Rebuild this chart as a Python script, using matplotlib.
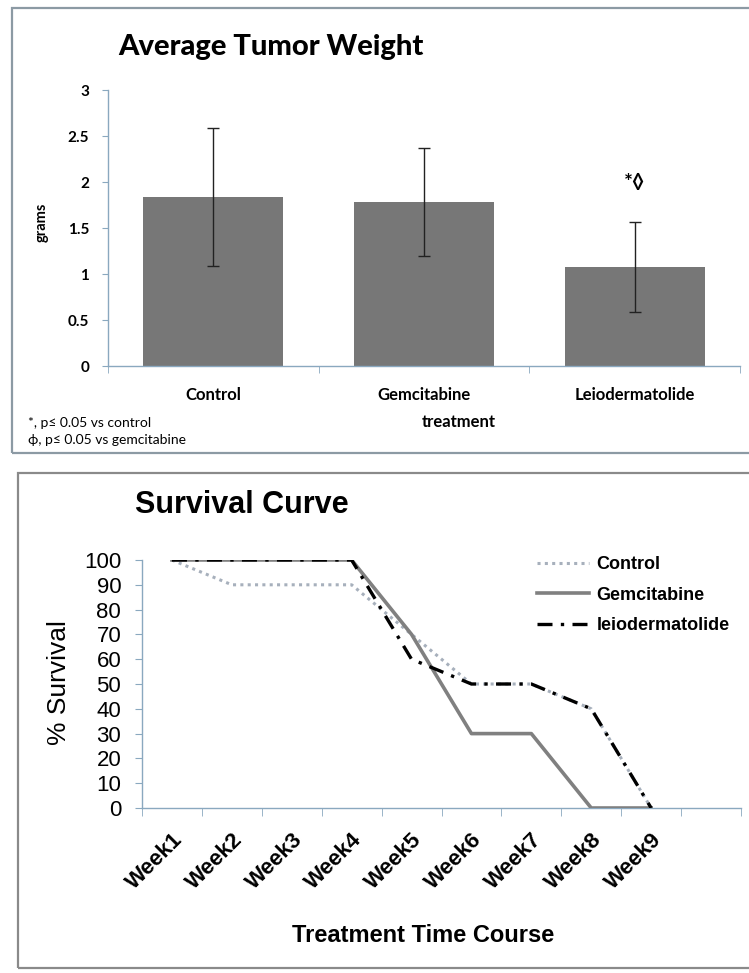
import matplotlib
matplotlib.use('Agg')
import matplotlib.pyplot as plt
from matplotlib.patches import Rectangle
from matplotlib.ticker import FixedLocator

# ---------------- data ----------------
treatments = ['Control', 'Gemcitabine', 'Leiodermatolide']
tumor_weight = [1.84, 1.78, 1.08]
tumor_err = [0.75, 0.585, 0.49]
weight_ticks = [0, 0.5, 1, 1.5, 2, 2.5, 3]
weight_tick_labels = ['0', '0.5', '1', '1.5', '2', '2.5', '3']

weeks = ['Week1', 'Week2', 'Week3', 'Week4', 'Week5', 'Week6', 'Week7', 'Week8', 'Week9']
control_surv = [100, 90, 90, 90, 70, 50, 50, 40, 0]
gem_surv = [100, 100, 100, 100, 70, 30, 30, 0, 0]
leio_surv = [100, 100, 100, 100, 60, 50, 50, 40, 0]
surv_ticks = [0, 10, 20, 30, 40, 50, 60, 70, 80, 90, 100]

W, H = 749, 973
fig = plt.figure(figsize=(W / 100, H / 100), dpi=100)
fig.patch.set_facecolor('white')

def fx(px):
    return px / W

def fy(py):
    return 1 - py / H

AXC = '#8aa8bf'
TOPF = ['Lato', 'DejaVu Sans']
BOTF = ['Liberation Sans', 'DejaVu Sans']

# panel borders
fig.patches.append(Rectangle((fx(12), fy(453)), fx(752 - 12), (453 - 8) / H,
                             transform=fig.transFigure, fill=False,
                             edgecolor='#8c9aa4', linewidth=1.6))
fig.patches.append(Rectangle((fx(18), fy(968)), fx(752 - 18), (968 - 473) / H,
                             transform=fig.transFigure, fill=False,
                             edgecolor='#8a8a8a', linewidth=1.6))

# ---------------- top: bar chart ----------------
ax1 = fig.add_axes([fx(108), fy(366), fx(740 - 108), (366 - 90) / H])
xpos = list(range(len(treatments)))
ax1.bar(xpos, tumor_weight, width=0.665, color='#777777', zorder=2)
ax1.errorbar(xpos, tumor_weight, yerr=tumor_err, fmt='none', ecolor='#222222',
             elinewidth=1.0, capsize=4, capthick=1.0, zorder=3)
ax1.set_xlim(-0.5, len(treatments) - 0.5)
ax1.set_ylim(0, 3)
ax1.set_yticks(weight_ticks)
ax1.set_yticklabels(weight_tick_labels, family=TOPF, fontweight='bold', fontsize=11)
ax1.set_xticks(xpos)
ax1.set_xticklabels(treatments, family=TOPF, fontweight='bold', fontsize=12)
ax1.xaxis.set_minor_locator(FixedLocator([i - 0.5 for i in range(len(treatments) + 1)]))
ax1.tick_params(axis='x', which='major', length=0, pad=15)
ax1.tick_params(axis='x', which='minor', length=5, color=AXC, direction='out')
ax1.tick_params(axis='y', length=4.5, color=AXC, direction='out', pad=9)
for s in ['top', 'right']:
    ax1.spines[s].set_visible(False)
for s in ['left', 'bottom']:
    ax1.spines[s].set_color(AXC)
    ax1.spines[s].set_linewidth(1.0)
ax1.text(2, 1.99, '*\u25CA', ha='center', va='center', fontsize=15,
         fontweight='bold', family=['Lato', 'DejaVu Sans'])

fig.text(fx(118), fy(47), 'Average Tumor Weight', ha='left', va='center',
         fontsize=21, fontweight='black', family=TOPF)
fig.text(fx(42), fy(222), 'grams', rotation=90, ha='center', va='center',
         fontsize=10.5, fontweight='bold', family=TOPF)
fig.text(fx(459), fy(422), 'treatment', ha='center', va='center',
         fontsize=12, fontweight='bold', family=TOPF)
fig.text(fx(28), fy(423), '*, p\u2264 0.05 vs control', ha='left', va='center',
         fontsize=10, family=TOPF)
fig.text(fx(28), fy(440), '\u03D5, p\u2264 0.05 vs gemcitabine', ha='left', va='center',
         fontsize=10, family=TOPF)

# ---------------- bottom: survival curve ----------------
ax2 = fig.add_axes([fx(142), fy(808), fx(741 - 142), (808 - 560) / H])
xw = list(range(len(weeks)))
ax2.plot(xw, control_surv, color='#a7b0bc', linewidth=2.2, linestyle=(0, (1, 1.4)),
         label='Control', zorder=2)
ax2.plot(xw, gem_surv, color='#808080', linewidth=2.6, linestyle='-',
         label='Gemcitabine', zorder=3)
ax2.plot(xw, leio_surv, color='black', linewidth=2.4, linestyle=(0, (4.5, 2.5, 1, 2.5)),
         label='leiodermatolide', zorder=4)
ax2.set_xlim(-0.5, len(weeks) + 0.5)
ax2.set_ylim(0, 100)
ax2.set_yticks(surv_ticks)
ax2.set_yticklabels([str(t) for t in surv_ticks], family=BOTF, fontsize=16)
ax2.set_xticks(xw)
ax2.set_xticklabels(weeks, family=BOTF, fontweight='bold', fontsize=16,
                    rotation=45, ha='right', rotation_mode='anchor')
ax2.xaxis.set_minor_locator(FixedLocator([i - 0.5 for i in range(len(weeks) + 2)]))
ax2.tick_params(axis='x', which='major', length=0, pad=15)
ax2.tick_params(axis='x', which='minor', length=5.5, color=AXC, direction='out')
ax2.tick_params(axis='y', length=5, color=AXC, direction='out', pad=10)
for s in ['top', 'right']:
    ax2.spines[s].set_visible(False)
for s in ['left', 'bottom']:
    ax2.spines[s].set_color(AXC)
    ax2.spines[s].set_linewidth(1.0)

leg = ax2.legend(loc='upper left', bbox_to_anchor=(fx(537), fy(556)),
                 bbox_transform=fig.transFigure, frameon=False, borderpad=0,
                 borderaxespad=0, handlelength=2.9, handletextpad=0.4,
                 labelspacing=0.75, prop={'family': BOTF, 'weight': 'bold', 'size': 13})

fig.text(fx(135), fy(505), 'Survival Curve', ha='left', va='center',
         fontsize=22, fontweight='bold', family=BOTF)
fig.text(fx(59), fy(683), '% Survival', rotation=90, ha='center', va='center',
         fontsize=19, family=BOTF)
fig.text(fx(423), fy(935), 'Treatment Time Course', ha='center', va='center',
         fontsize=17, fontweight='bold', family=BOTF)

fig.savefig('out.png', dpi=100, facecolor='white')
